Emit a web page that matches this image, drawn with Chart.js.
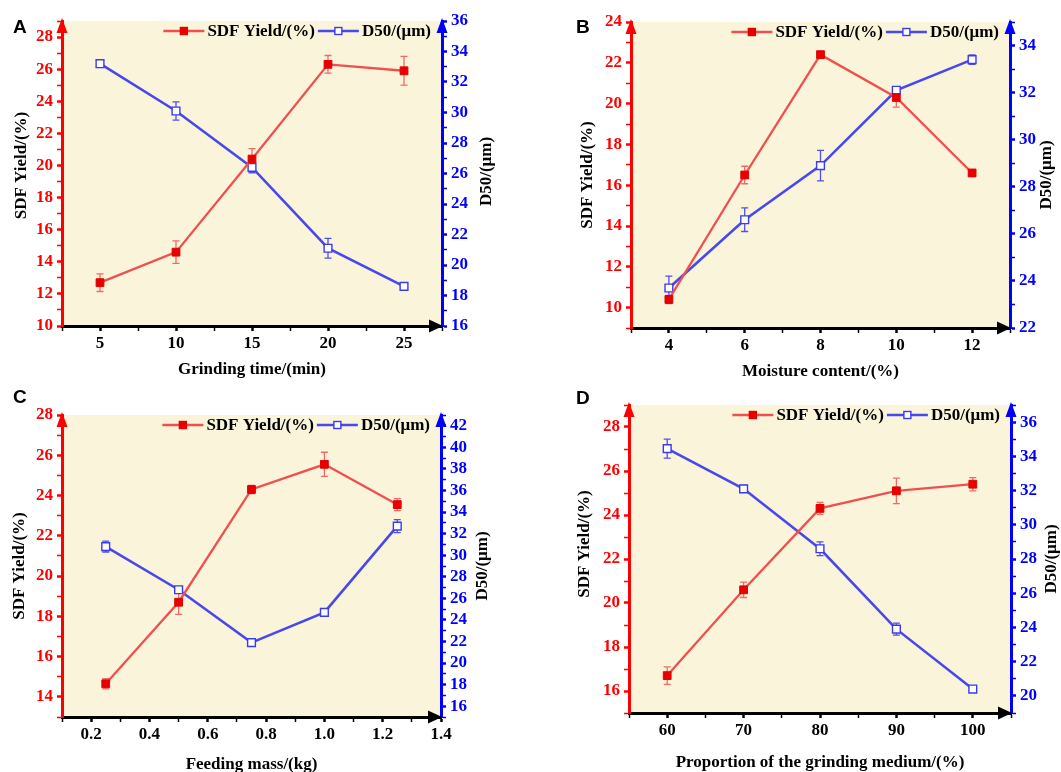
<!DOCTYPE html>
<html>
<head>
<meta charset="utf-8">
<script src="https://cdn.jsdelivr.net/npm/chart.js@4.4.0/dist/chart.umd.min.js"></script>
<style>
  body { margin: 0; background: #fff; }
  #wrap { position: relative; width: 1061px; height: 772px; overflow: hidden; }
  .panel { position: absolute; }
  .tag { position: absolute; font: bold 19px "Liberation Sans", Arial, sans-serif; line-height: 19px; color: #000; }
</style>
</head>
<body>
<div id="wrap">
  <div class="panel" style="left:0;top:0"><canvas id="chartA" width="530" height="386"></canvas></div>
  <div class="panel" style="left:530px;top:0"><canvas id="chartB" width="531" height="386"></canvas></div>
  <div class="panel" style="left:0;top:386px"><canvas id="chartC" width="530" height="386"></canvas></div>
  <div class="panel" style="left:530px;top:386px"><canvas id="chartD" width="531" height="386"></canvas></div>
  <div class="tag" style="left:13px;top:17px">A</div>
  <div class="tag" style="left:576px;top:17px">B</div>
  <div class="tag" style="left:13px;top:387px">C</div>
  <div class="tag" style="left:576px;top:388px">D</div>
</div>
<script>
// Data
const timeA = [5, 10, 15, 20, 25];
const sdfA = [12.7, 14.6, 20.4, 26.3, 25.9];
const sdfErrA = [0.55, 0.7, 0.65, 0.55, 0.9];
const d50A = [33.2, 30.1, 26.4, 21.1, 18.6];
const d50ErrA = [0.2, 0.6, 0.35, 0.65, 0.15];

const moistB = [4, 6, 8, 10, 12];
const sdfB = [10.4, 16.5, 22.4, 20.3, 16.6];
const sdfErrB = [0.2, 0.43, 0.08, 0.47, 0.15];
const d50B = [23.7, 26.6, 28.9, 32.1, 33.4];
const d50ErrB = [0.5, 0.5, 0.65, 0.15, 0.2];

const massC = [0.25, 0.5, 0.75, 1.0, 1.25];
const sdfC = [14.65, 18.7, 24.3, 25.55, 23.55];
const sdfErrC = [0.25, 0.6, 0.2, 0.6, 0.3];
const d50C = [30.8, 26.8, 21.9, 24.7, 32.7];
const d50ErrC = [0.5, 0.25, 0.2, 0.3, 0.6];

const mediumD = [60, 70, 80, 90, 100];
const sdfD = [16.7, 20.6, 24.3, 25.1, 25.4];
const sdfErrD = [0.4, 0.35, 0.27, 0.58, 0.3];
const d50D = [34.45, 32.1, 28.6, 23.9, 20.4];
const d50ErrD = [0.55, 0.2, 0.4, 0.35, 0.1];

const SDF_LABEL = 'SDF Yield/(%)';
const D50_LABEL = 'D50/(μm)';

const SERIF = '"Liberation Serif", "Times New Roman", serif';
const RED = '#ff0000', BLUE = '#0000ff';

function isMajor(v, step) {
  const r = v / step;
  return Math.abs(r - Math.round(r)) < 1e-6;
}

// error bars drawn through the y scales
const errorBars = {
  id: 'errorBars',
  beforeDatasetsDraw(chart) {
    const ctx = chart.ctx;
    chart.data.datasets.forEach((ds, di) => {
      const meta = chart.getDatasetMeta(di);
      const ys = chart.scales[ds.yAxisID];
      ctx.save();
      ctx.strokeStyle = ds.errorColor;
      ctx.lineWidth = 1.3;
      meta.data.forEach((pt, i) => {
        const v = ds.data[i].y, e = ds.errors[i];
        const top = ys.getPixelForValue(v + e), bot = ys.getPixelForValue(v - e);
        ctx.beginPath();
        ctx.moveTo(pt.x, top); ctx.lineTo(pt.x, bot);
        ctx.moveTo(pt.x - 3.5, top); ctx.lineTo(pt.x + 3.5, top);
        ctx.moveTo(pt.x - 3.5, bot); ctx.lineTo(pt.x + 3.5, bot);
        ctx.stroke();
      });
      ctx.restore();
    });
  }
};

function tri(ctx, color, p1, p2, p3) {
  ctx.fillStyle = color;
  ctx.beginPath();
  ctx.moveTo(p1[0], p1[1]); ctx.lineTo(p2[0], p2[1]); ctx.lineTo(p3[0], p3[1]);
  ctx.closePath();
  ctx.fill();
}

// background, axis arrows, axis titles, legend
const decor = {
  id: 'decor',
  beforeDraw(chart) {
    const { ctx, chartArea: a } = chart;
    ctx.save();
    ctx.fillStyle = '#faf5da';
    ctx.fillRect(a.left, a.top, a.right - a.left, a.bottom - a.top);
    ctx.restore();
  },
  afterDraw(chart, args, o) {
    const { ctx, chartArea: a } = chart;
    ctx.save();
    tri(ctx, RED, [a.left, a.top - 3], [a.left - 5.5, a.top + 12], [a.left + 5.5, a.top + 12]);
    tri(ctx, BLUE, [a.right, a.top - 3], [a.right - 5.5, a.top + 12], [a.right + 5.5, a.top + 12]);
    tri(ctx, '#000', [a.right + 1, a.bottom], [a.right - 13, a.bottom - 6.5], [a.right - 13, a.bottom + 6.5]);

    ctx.font = 'bold 17px ' + SERIF;
    ctx.fillStyle = '#000';
    ctx.textAlign = 'center';
    ctx.textBaseline = 'middle';
    ctx.fillText(o.xTitle, (a.left + a.right) / 2, a.bottom + o.xTitleDy);
    const midY = (a.top + a.bottom) / 2;
    ctx.save();
    ctx.translate(a.left - o.leftDx, midY + o.leftDy);
    ctx.rotate(-Math.PI / 2);
    ctx.fillText(SDF_LABEL, 0, 0);
    ctx.restore();
    ctx.save();
    ctx.translate(a.right + o.rightDx, midY + o.rightDy);
    ctx.rotate(-Math.PI / 2);
    ctx.fillText(D50_LABEL, 0, 0);
    ctx.restore();

    // legend
    const seg = 41, gap = 3;
    const sets = chart.data.datasets;
    let total = 0;
    sets.forEach(ds => { total += seg + gap + ctx.measureText(ds.label).width + gap; });
    let x = a.right - 8 - total;
    const y = a.top + 10;
    sets.forEach(ds => {
      ctx.strokeStyle = ds.borderColor;
      ctx.lineWidth = 2.5;
      ctx.beginPath(); ctx.moveTo(x, y); ctx.lineTo(x + seg, y); ctx.stroke();
      ctx.fillStyle = ds.pointBackgroundColor;
      ctx.strokeStyle = ds.pointBorderColor;
      ctx.lineWidth = 1.4;
      ctx.fillRect(x + seg / 2 - 3.5, y - 3.5, 7, 7);
      ctx.strokeRect(x + seg / 2 - 3.5, y - 3.5, 7, 7);
      x += seg + gap;
      ctx.fillStyle = '#000';
      ctx.textAlign = 'left';
      ctx.fillText(ds.label, x, y + 1);
      x += ctx.measureText(ds.label).width + gap;
    });
    ctx.restore();
  }
};

function axis(color, pos, min, max, step, labelStep, size, fmt) {
  const horizontal = pos === 'bottom';
  return {
    type: 'linear',
    position: pos,
    min: min,
    max: max,
    afterFit: s => { if (horizontal) s.height = size; else s.width = size; },
    ticks: {
      stepSize: step,
      includeBounds: false,
      autoSkip: false,
      maxRotation: 0,
      padding: horizontal ? 2 : 4,
      color: color,
      font: { family: SERIF, size: 17, weight: 'bold' },
      callback: v => isMajor(v, labelStep) ? (fmt ? fmt(v) : v) : ''
    },
    grid: {
      drawOnChartArea: false,
      tickLength: 5,
      tickColor: color,
      tickWidth: c => (c.tick && isMajor(c.tick.value, labelStep)) ? 2.5 : 1.5
    },
    border: { color: color, width: 3 }
  };
}

function makePanel(id, p) {
  new Chart(document.getElementById(id), {
    type: 'line',
    data: {
      datasets: [
        {
          label: SDF_LABEL,
          data: p.xs.map((x, i) => ({ x: x, y: p.sdf[i] })),
          errors: p.sdfErr,
          errorColor: '#f06a6a',
          yAxisID: 'y',
          borderColor: '#f14f4f',
          borderWidth: 2.3,
          pointStyle: 'rect',
          pointRadius: 5.5,
          pointBackgroundColor: '#e60000',
          pointBorderColor: '#e60000',
          pointBorderWidth: 1
        },
        {
          label: D50_LABEL,
          data: p.xs.map((x, i) => ({ x: x, y: p.d50[i] })),
          errors: p.d50Err,
          errorColor: '#5050ee',
          yAxisID: 'y1',
          borderColor: '#4848ee',
          borderWidth: 2.6,
          pointStyle: 'rect',
          pointRadius: 5.5,
          pointBackgroundColor: '#ffffff',
          pointBorderColor: '#3a3aee',
          pointBorderWidth: 1.4
        }
      ]
    },
    options: {
      responsive: false,
      animation: false,
      layout: { padding: { top: p.top, left: 0, right: 0, bottom: 0 } },
      plugins: {
        legend: { display: false },
        tooltip: { enabled: false },
        decor: p.decor
      },
      scales: {
        x: axis('#000', 'bottom', p.xMin, p.xMax, p.xStep, p.xLabelStep, p.xHeight, p.xFmt),
        y: axis(RED, 'left', p.yMin, p.yMax, 1, 2, p.leftW),
        y1: axis(BLUE, 'right', p.y1Min, p.y1Max, 1, 2, p.rightW)
      }
    },
    plugins: [errorBars, decor]
  });
}

makePanel('chartA', {
  xs: timeA, sdf: sdfA, sdfErr: sdfErrA, d50: d50A, d50Err: d50ErrA,
  xMin: 2.5, xMax: 27.5, xStep: 2.5, xLabelStep: 5,
  yMin: 10, yMax: 29, y1Min: 16, y1Max: 36,
  top: 21, leftW: 62, rightW: 88, xHeight: 60,
  decor: { xTitle: 'Grinding time/(min)', xTitleDy: 44, leftDx: 40, leftDy: -8, rightDx: 45, rightDy: -2 }
});

makePanel('chartB', {
  xs: moistB, sdf: sdfB, sdfErr: sdfErrB, d50: d50B, d50Err: d50ErrB,
  xMin: 3, xMax: 13, xStep: 1, xLabelStep: 2,
  yMin: 9, yMax: 24, y1Min: 22, y1Max: 35,
  top: 22, leftW: 101, rightW: 51, xHeight: 58,
  decor: { xTitle: 'Moisture content/(%)', xTitleDy: 44, leftDx: 43, leftDy: 0, rightDx: 37, rightDy: 0 }
});

makePanel('chartC', {
  xs: massC, sdf: sdfC, sdfErr: sdfErrC, d50: d50C, d50Err: d50ErrC,
  xMin: 0.1, xMax: 1.4, xStep: 0.1, xLabelStep: 0.2, xFmt: v => v.toFixed(1),
  yMin: 13, yMax: 28, y1Min: 15, y1Max: 43,
  top: 29, leftW: 62, rightW: 89, xHeight: 55,
  decor: { xTitle: 'Feeding mass/(kg)', xTitleDy: 48, leftDx: 42, leftDy: 0, rightDx: 42, rightDy: 0 }
});

makePanel('chartD', {
  xs: mediumD, sdf: sdfD, sdfErr: sdfErrD, d50: d50D, d50Err: d50ErrD,
  xMin: 55, xMax: 105, xStep: 5, xLabelStep: 10,
  yMin: 15, yMax: 29, y1Min: 19, y1Max: 37,
  top: 19, leftW: 99, rightW: 50, xHeight: 59,
  decor: { xTitle: 'Proportion of the grinding medium/(%)', xTitleDy: 50, leftDx: 44, leftDy: -15, rightDx: 41, rightDy: 0 }
});
</script>
</body>
</html>
